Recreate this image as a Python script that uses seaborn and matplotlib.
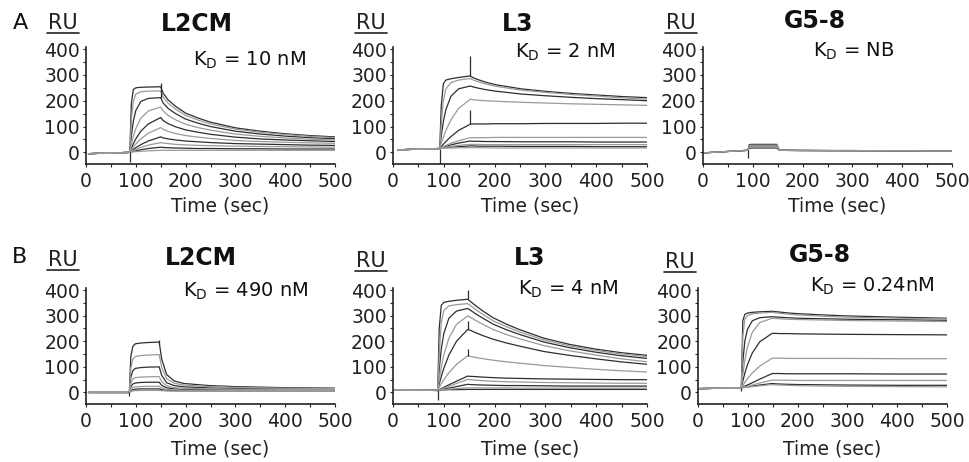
import pandas as pd
import seaborn as sns
import matplotlib.pyplot as plt
from matplotlib.lines import Line2D

sns.set_style("ticks")
plt.rcParams['font.family'] = ['DejaVu Sans']
plt.rcParams['mathtext.fontset'] = 'dejavusans'

# ---------------- data (RU vs time in sec) ----------------
# A / L2CM
A1_BASE_T = [5, 88]
A1_BASE = [-5, 0]
A1_T_ASSOC = [88, 91, 95, 100, 110, 125, 150]
A1_ASSOC = [
    [0, 188, 243, 250, 252, 253, 254],
    [0, 126, 197, 226, 235, 237, 238],
    [0, 64, 120, 162, 197, 209, 212],
    [0, 30, 62, 92, 132, 160, 176],
    [0, 15, 33, 52, 82, 110, 135],
    [0, 9, 20, 32, 52, 74, 96],
    [0, 5, 11, 18, 30, 44, 60],
    [0, 3, 7, 11, 19, 28, 38],
    [0, 2, 4, 6, 10, 15, 20],
    [0, 1, 2, 3, 4, 6, 8],
]
A1_T_DISS = [150, 155, 165, 180, 200, 225, 250, 300, 350, 400, 450, 500]
A1_DISS = [
    [254, 229, 203, 178, 152, 133, 117, 95, 82, 72, 65, 60],
    [238, 214, 190, 167, 143, 125, 110, 90, 78, 69, 62, 57],
    [212, 191, 170, 150, 129, 113, 100, 82, 71, 63, 57, 53],
    [176, 160, 143, 126, 109, 96, 86, 71, 62, 56, 51, 48],
    [135, 123, 111, 99, 87, 78, 70, 59, 52, 48, 45, 42],
    [96, 89, 81, 73, 65, 59, 54, 46, 42, 39, 37, 35],
    [60, 56, 52, 48, 44, 41, 38, 34, 32, 30, 28, 27],
    [38, 36, 34, 31, 29, 27, 26, 24, 23, 22, 21, 20],
    [20, 19, 18, 17, 16, 15, 15, 14, 14, 13, 13, 13],
    [8, 8, 8, 8, 8, 8, 8, 8, 8, 8, 8, 8],
]
A1_SPIKES = [(88, -38, 0), (150, 210, 268)]

# A / L3
A2_BASE_T = [10, 92]
A2_BASE = [10, 15]
A2_T_ASSOC = [92, 95, 99, 104, 114, 129, 152]
A2_ASSOC = [
    [15, 180, 265, 280, 285, 290, 296],
    [15, 110, 200, 245, 270, 280, 286],
    [15, 65, 118, 165, 217, 246, 257],
    [15, 34, 58, 84, 126, 170, 206],
    [15, 22, 31, 42, 61, 85, 109],
    [15, 18, 22, 27, 35, 45, 57],
    [15, 17, 20, 23, 29, 36, 44],
    [15, 16, 18, 20, 23, 27, 31],
    [15, 16, 17, 18, 20, 22, 25],
    [15, 16, 16, 17, 17, 18, 18],
]
A2_T_DISS = [152, 157, 167, 182, 202, 252, 302, 352, 402, 452, 500]
A2_DISS = [
    [296, 290, 282, 272, 262, 246, 236, 228, 222, 216, 212],
    [286, 281, 274, 265, 256, 241, 232, 224, 218, 211, 206],
    [257, 254, 249, 243, 237, 226, 219, 213, 208, 204, 200],
    [206, 204, 202, 200, 198, 194, 191, 188, 186, 184, 182],
    [109, 110, 110, 110, 111, 111, 112, 112, 112, 113, 113],
    [57, 57, 57, 57, 58, 58, 58, 58, 58, 58, 58],
    [44, 43, 43, 42, 42, 41, 41, 41, 40, 40, 40],
    [31, 31, 31, 30, 30, 30, 30, 30, 30, 30, 30],
    [25, 25, 24, 24, 24, 23, 23, 23, 22, 22, 22],
    [18, 18, 18, 18, 17, 17, 17, 17, 17, 17, 17],
]
A2_SPIKES = [(92, -45, 15), (152, 296, 372), (152, 109, 165)]

# A / G5-8
A3_BASE_T = [0, 90]
A3_BASE = [-2, 8]
A3_T_ASSOC = [90, 93, 97, 102, 112, 127, 148]
A3_ASSOC = [
    [8, 30, 31, 31, 31, 31, 31],
    [8, 27, 28, 28, 28, 28, 28],
    [8, 24, 25, 25, 25, 25, 25],
    [8, 20, 21, 21, 21, 21, 21],
    [8, 16, 17, 17, 17, 17, 17],
]
A3_T_DISS = [148, 153, 163, 178, 198, 248, 298, 398, 500]
A3_DISS = [
    [31, 10, 8, 8, 8, 7, 7, 6, 5],
    [28, 10, 8, 8, 8, 7, 7, 6, 5],
    [25, 9, 8, 8, 7, 7, 7, 6, 5],
    [21, 9, 8, 8, 7, 7, 6, 6, 5],
    [17, 9, 8, 7, 7, 7, 6, 6, 5],
]
A3_SPIKES = [(90, -20, 8)]

# B / L2CM
B1_BASE_T = [5, 87]
B1_BASE = [0, 0]
B1_T_ASSOC = [87, 90, 94, 99, 109, 124, 147]
B1_ASSOC = [
    [0, 140, 180, 190, 193, 195, 197],
    [0, 95, 130, 140, 144, 146, 148],
    [0, 60, 85, 94, 97, 99, 100],
    [0, 36, 52, 58, 60, 61, 62],
    [0, 22, 33, 37, 39, 40, 40],
    [0, 13, 20, 22, 23, 24, 24],
    [0, 7, 11, 13, 14, 14, 14],
    [0, 4, 6, 7, 8, 8, 8],
]
B1_T_DISS = [147, 152, 162, 177, 197, 247, 297, 397, 500]
B1_DISS = [
    [197, 130, 70, 45, 35, 27, 23, 19, 17],
    [148, 98, 54, 36, 29, 23, 20, 17, 15],
    [100, 67, 38, 27, 22, 18, 16, 14, 13],
    [62, 43, 26, 19, 16, 14, 13, 12, 11],
    [40, 28, 18, 14, 12, 11, 10, 10, 9],
    [24, 18, 12, 10, 9, 8, 8, 8, 8],
    [14, 11, 8, 7, 7, 6, 6, 6, 6],
    [8, 7, 6, 5, 5, 5, 5, 5, 5],
]
B1_SPIKES = [(87, -12, 0), (147, 190, 205)]

# B / L3
B2_BASE_T = [0, 88]
B2_BASE = [10, 8]
B2_T_ASSOC = [88, 91, 95, 100, 110, 125, 147]
B2_ASSOC = [
    [8, 250, 340, 352, 356, 360, 364],
    [8, 150, 270, 320, 338, 343, 347],
    [8, 90, 170, 230, 290, 318, 328],
    [8, 51, 98, 146, 212, 266, 299],
    [8, 33, 62, 94, 146, 200, 246],
    [8, 19, 34, 50, 77, 110, 143],
    [8, 11, 15, 20, 30, 44, 64],
    [8, 10, 13, 17, 24, 35, 51],
    [8, 9, 11, 13, 17, 23, 32],
    [8, 9, 10, 11, 13, 15, 18],
    [8, 9, 10, 10, 11, 11, 12],
]
B2_T_DISS = [147, 152, 162, 177, 197, 222, 247, 297, 347, 397, 447, 500]
B2_DISS = [
    [364, 356, 340, 318, 292, 268, 247, 212, 188, 170, 156, 145],
    [347, 340, 325, 305, 280, 258, 238, 205, 182, 165, 151, 140],
    [328, 322, 308, 290, 267, 246, 228, 197, 175, 158, 144, 133],
    [299, 294, 282, 266, 246, 227, 211, 183, 163, 147, 132, 120],
    [246, 243, 234, 222, 208, 194, 182, 160, 145, 132, 120, 110],
    [143, 141, 137, 132, 126, 120, 115, 105, 98, 91, 85, 80],
    [64, 63, 62, 60, 58, 56, 55, 53, 52, 51, 50, 50],
    [51, 50, 48, 46, 44, 42, 41, 39, 38, 37, 36, 36],
    [32, 31, 30, 29, 28, 27, 27, 26, 25, 25, 25, 25],
    [18, 18, 18, 18, 18, 18, 17, 17, 17, 17, 17, 17],
    [12, 12, 12, 12, 12, 12, 12, 12, 12, 12, 12, 12],
]
B2_SPIKES = [(88, -30, 8), (147, 364, 402), (147, 246, 278), (147, 143, 170)]

# B / G5-8
B3_BASE_T = [0, 87]
B3_BASE = [15, 18]
B3_T_ASSOC = [87, 90, 94, 99, 109, 124, 149]
B3_ASSOC = [
    [18, 280, 305, 310, 313, 315, 317],
    [18, 220, 285, 300, 307, 310, 313],
    [18, 120, 200, 245, 280, 292, 296],
    [18, 70, 125, 175, 235, 273, 290],
    [18, 44, 75, 107, 154, 198, 231],
    [18, 27, 39, 53, 76, 103, 134],
    [18, 21, 25, 29, 38, 52, 74],
    [18, 20, 22, 24, 29, 37, 48],
    [18, 19, 20, 22, 25, 29, 35],
    [18, 19, 20, 21, 23, 26, 31],
]
B3_T_DISS = [149, 154, 164, 179, 199, 249, 299, 399, 500]
B3_DISS = [
    [317, 316, 314, 311, 308, 303, 299, 294, 290],
    [313, 312, 309, 306, 303, 298, 294, 290, 287],
    [296, 295, 294, 292, 290, 288, 286, 284, 282],
    [290, 289, 288, 286, 285, 283, 281, 279, 277],
    [231, 231, 230, 230, 229, 228, 227, 226, 225],
    [134, 134, 134, 133, 133, 133, 133, 132, 132],
    [74, 74, 74, 73, 73, 73, 73, 72, 72],
    [48, 48, 48, 48, 47, 47, 47, 47, 47],
    [35, 34, 33, 32, 31, 30, 29, 28, 28],
    [31, 30, 29, 28, 27, 25, 24, 23, 22],
]
B3_SPIKES = [(87, 5, 18)]

TITLES = ['L2CM', 'L3', 'G5-8', 'L2CM', 'L3', 'G5-8']
KD_LABELS = ['10 nM', '2 nM', 'NB', '490 nM', '4 nM', '0.24nM']
X_TICKS = [0, 100, 200, 300, 400, 500]
Y_TICKS = [0, 100, 200, 300, 400]

panels = [
    (A1_BASE_T, A1_BASE, A1_T_ASSOC, A1_ASSOC, A1_T_DISS, A1_DISS, A1_SPIKES),
    (A2_BASE_T, A2_BASE, A2_T_ASSOC, A2_ASSOC, A2_T_DISS, A2_DISS, A2_SPIKES),
    (A3_BASE_T, A3_BASE, A3_T_ASSOC, A3_ASSOC, A3_T_DISS, A3_DISS, A3_SPIKES),
    (B1_BASE_T, B1_BASE, B1_T_ASSOC, B1_ASSOC, B1_T_DISS, B1_DISS, B1_SPIKES),
    (B2_BASE_T, B2_BASE, B2_T_ASSOC, B2_ASSOC, B2_T_DISS, B2_DISS, B2_SPIKES),
    (B3_BASE_T, B3_BASE, B3_T_ASSOC, B3_ASSOC, B3_T_DISS, B3_DISS, B3_SPIKES),
]

# long table: one row per point
rows = []
for p, (bt, bv, ta, assoc, td, diss, _) in enumerate(panels):
    for c in range(len(assoc)):
        t = bt + ta[1:] + td[1:]
        v = bv + assoc[c][1:] + diss[c][1:]
        shade = 'dark' if c % 2 == 0 else 'light'
        for ti, vi in zip(t, v):
            rows.append((p, c, ti, vi, shade))
df = pd.DataFrame(rows, columns=['panel', 'curve', 'time', 'ru', 'shade'])

# ---------------- layout (pixel boxes of the original) ----------------
W, H = 969, 462
fig = plt.figure(figsize=(W / 100, H / 100), dpi=100)

def fx(x):
    return x / W

def fy(y):
    return 1 - y / H

boxes = [(86, 47, 249, 117), (393, 47, 254, 117), (703, 47, 249, 117),
         (86, 288, 249, 116), (393, 288, 254, 116), (698, 288, 249, 116)]
title_pos = [(197, 24), (518, 24), (815, 21), (201, 258), (530, 258), (820, 255)]
kd_pos = [(193, 66), (515, 58), (813, 57), (183, 297), (518, 295), (810, 292)]
ru_pos = [(63, 23), (371, 23), (681, 23), (63, 260), (371, 261), (680, 262)]

pal = {'dark': '#2e2e2e', 'light': '#9a9a9a'}

for p, (left, top, w, h) in enumerate(boxes):
    ax = fig.add_axes([fx(left), fy(top + h), w / W, h / H])
    sub = df[df.panel == p]
    sns.lineplot(data=sub, x='time', y='ru', units='curve', estimator=None,
                 hue='shade', palette=pal, sort=False, legend=False,
                 lw=0.9, ax=ax)
    for (st, lo, hi) in panels[p][6]:
        ax.vlines(st, lo, hi, color='#2e2e2e', lw=0.9)
    ax.set_xlim(0, 500)
    ax.set_ylim(-45, 408)
    ax.set_xticks(X_TICKS)
    ax.set_yticks(Y_TICKS)
    ax.set_xticks(range(50, 500, 100), minor=True)
    ax.set_yticks(range(50, 400, 100), minor=True)
    ax.tick_params(which='both', direction='out', length=2.5, width=0.8,
                   labelsize=13.5, pad=2, colors='#222222')
    ax.tick_params(axis='x', pad=3)
    for s in ['top', 'right']:
        ax.spines[s].set_visible(False)
    for s in ['left', 'bottom']:
        ax.spines[s].set_linewidth(1.2)
        ax.spines[s].set_color('#222222')
    ax.set_xlabel('')
    ax.set_ylabel('')
    ax.text(0.54, -0.36 if p < 3 else -0.39, 'Time (sec)', transform=ax.transAxes,
            ha='center', va='center', fontsize=13.5, color='#222222')

    tx, ty = title_pos[p]
    fig.text(fx(tx), fy(ty), TITLES[p], ha='center', va='center',
             fontsize=17, fontweight='bold', color='#111111')
    kx, ky = kd_pos[p]
    fig.text(fx(kx), fy(ky), r'K$_\mathregular{D}$ = ' + KD_LABELS[p],
             ha='left', va='baseline', fontsize=14, color='#111111')
    rx, ry = ru_pos[p]
    fig.text(fx(rx), fy(ry), 'RU', ha='center', va='center',
             fontsize=15, color='#222222')
    fig.add_artist(Line2D([fx(rx - 16), fx(rx + 16)], [fy(ry + 10), fy(ry + 10)],
                          color='#222222', lw=1.2))

fig.text(fx(20), fy(23), 'A', ha='center', va='center', fontsize=16, color='#111111')
fig.text(fx(20), fy(257), 'B', ha='center', va='center', fontsize=16, color='#111111')

fig.savefig('out.png', dpi=100)
